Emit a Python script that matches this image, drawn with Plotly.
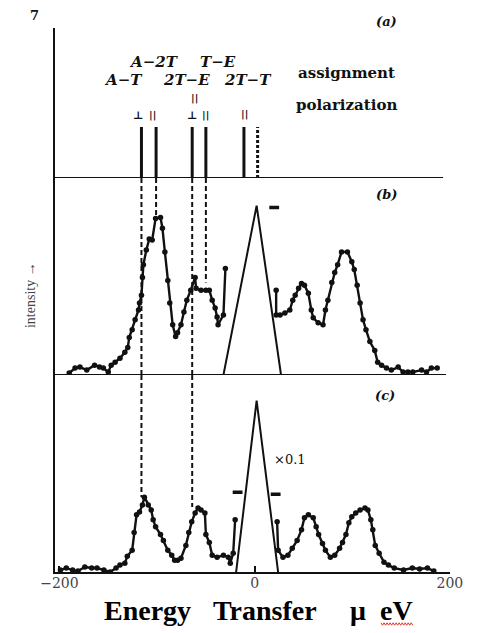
import plotly.graph_objects as go

W, H = 478, 633

# ---- (a) calculated transitions: energy (μeV), stick height, drawn dashed?
stick_E = [-116, -101, -64, -50, -11, 3]
stick_h = [51, 51, 51, 51, 51, 51]
stick_dashed = [False, False, False, False, False, True]

# guide lines dropped from the sticks: end value in (b) and in (c) (None = stops in (b))
guide_E = [-116, -101, -64, -50]
guide_end_b = [0, 80, 0, 47]
guide_end_c = [38, None, 33, None]

# ---- (b) measured spectrum
b_left_E = [-190, -184, -179, -172, -164, -159, -155, -150, -147, -143, -138, -133, -130, -128.5,
            -125.5, -122.5, -119, -118, -116, -115, -114, -111, -108, -105, -101.5, -96.5, -94.5,
            -92, -89, -87, -84, -81, -79, -75.5, -72.5, -69.5, -65.5, -61, -60, -55, -50, -46.5,
            -43.5, -40.5, -38.5, -37.5, -32, -30]
b_left_v = [1, 3.5, 4, 2.5, 5, 4, 3.5, 1.5, 5, 6.5, 8.5, 11.5, 14, 19,
            23, 28, 33, 36.5, 40.5, 49.5, 56, 63.5, 69, 68.5, 79.5, 80, 74.5,
            62.5, 48, 36.5, 25.5, 19.5, 21.5, 25.5, 32, 38, 43, 49.5, 44, 43, 43, 43,
            38, 34, 29.5, 25.5, 30.5, 54]
b_right_E = [22, 22, 26, 31, 36, 39, 41.5, 45, 48, 51, 55, 58, 60, 65, 70, 72.5, 75, 79, 82, 85,
             89, 95, 99.5, 102, 105, 108, 111, 114, 118, 123, 126, 130, 135, 140, 147, 152, 157,
             162, 171, 176, 181, 187]
b_right_v = [43, 30.5, 30.5, 31.5, 33, 38, 40.5, 44, 46.5, 45.5, 41.5, 33, 29, 26.5, 25.5, 33, 38,
             47, 52, 56, 62.5, 62.5, 57.5, 53.5, 45.5, 36.5, 28, 23, 17, 12.5, 6.5, 5, 3.5, 2.5,
             4, 1.5, 1.5, 1.5, 2.5, 1.5, 3.5, 3.5]
b_elastic_E = [-32, 2, 27]
b_elastic_v = [0, 86, 0]
b_single_E = [20]
b_single_v = [85]

# ---- (c) measured spectrum (elastic line scaled ×0.1)
c_left_E = [-199, -193, -186.5, -181, -174, -167, -161.5, -154.5, -148, -142, -138, -133, -130.5,
            -125.5, -123.5, -121, -118, -115, -113, -109, -106, -104, -101.5, -96.5, -93.5, -89,
            -85, -82, -79, -75.5, -70.5, -67.5, -64.5, -61, -58, -55, -51, -50, -46.5, -43.5,
            -38.5, -32, -27, -25, -22, -20]
c_left_v = [1, 2, 1, 0.5, 2.5, 2, 2, 1, 0, 2, 3.5, 4.5, 8,
            11, 20, 29, 30.5, 34, 38, 34, 31.5, 26.5, 23, 19, 16, 11,
            8.5, 6, 6, 7, 13.5, 20, 25.5, 30, 32.5, 31.5, 30, 19, 15, 8.5,
            7.5, 8.5, 7.5, 4.5, 9.5, 26.5]
c_right_E = [23, 24, 29, 34, 38.5, 43.5, 48, 51, 55, 60, 63, 65.5, 69.5, 72.5, 77.5, 82, 87, 90,
             93.5, 96.5, 99.5, 103.5, 108, 113, 116, 119, 121, 123.5, 127.5, 132.5, 137, 143,
             152.5, 161.5, 169, 177, 183.5]
c_right_v = [25.5, 11, 7.5, 8.5, 12, 16, 21.5, 27.5, 29, 27.5, 23, 19, 14.5, 11, 7.5, 8.5, 12, 15,
             19, 25, 28, 30, 31.5, 32.5, 31.5, 26.5, 21.5, 13.5, 9.5, 5, 3.5, 2,
             1, 2, 1.5, 2, 0.5]
c_elastic_E = [-19, 2, 24]
c_elastic_v = [0, 87, 0]
c_single_E = [-17.5, 21.5]
c_single_v = [40.5, 39.5]

x_ticks = [-200, 0, 200]
x_ticktext = ["\u2212200", "0", "200"]


def px(x):
    return x / W


def py(y):
    return 1 - y / H


INK = "#111111"
pt_marker = dict(symbol="circle", size=5.5, color=INK, line=dict(width=0))
single_marker = dict(symbol="line-ew", size=7, line=dict(width=3.5, color=INK), color=INK)

fig = go.Figure()

# sticks of panel (a)
for e, h, d in zip(stick_E, stick_h, stick_dashed):
    fig.add_trace(go.Scatter(x=[e, e], y=[0, h], mode="lines", xaxis="x", yaxis="y",
                             line=dict(color=INK, width=3, dash="3px,2px" if d else "solid"),
                             showlegend=False, hoverinfo="skip"))

# dashed guides through (b) and (c)
for e, eb, ec in zip(guide_E, guide_end_b, guide_end_c):
    fig.add_trace(go.Scatter(x=[e, e], y=[100, eb], mode="lines", xaxis="x", yaxis="y2",
                             line=dict(color=INK, width=2, dash="5px,3px"),
                             showlegend=False, hoverinfo="skip"))
    if ec is not None:
        fig.add_trace(go.Scatter(x=[e, e], y=[100, ec], mode="lines", xaxis="x", yaxis="y3",
                                 line=dict(color=INK, width=2, dash="5px,3px"),
                                 showlegend=False, hoverinfo="skip"))

# spectra
for ax, xs, ys in [("y2", b_left_E, b_left_v), ("y2", b_right_E, b_right_v),
                   ("y3", c_left_E, c_left_v), ("y3", c_right_E, c_right_v)]:
    fig.add_trace(go.Scatter(x=xs, y=ys, mode="lines+markers", xaxis="x", yaxis=ax,
                             line=dict(color=INK, width=2.4), marker=pt_marker,
                             showlegend=False, hoverinfo="skip"))
for ax, xs, ys in [("y2", b_elastic_E, b_elastic_v), ("y3", c_elastic_E, c_elastic_v)]:
    fig.add_trace(go.Scatter(x=xs, y=ys, mode="lines", xaxis="x", yaxis=ax,
                             line=dict(color=INK, width=2),
                             showlegend=False, hoverinfo="skip"))
for ax, xs, ys in [("y2", b_single_E, b_single_v), ("y3", c_single_E, c_single_v)]:
    fig.add_trace(go.Scatter(x=xs, y=ys, mode="markers", xaxis="x", yaxis=ax,
                             marker=single_marker, showlegend=False, hoverinfo="skip"))

yax = dict(showline=True, linecolor=INK, linewidth=2, showgrid=False, zeroline=False,
           showticklabels=False, ticks="", anchor="x", fixedrange=True)

shapes = [
    dict(type="line", xref="x", yref="y", x0=-205, x1=193, y0=0, y1=0,
         line=dict(color=INK, width=2)),
    dict(type="line", xref="x", yref="y2", x0=-205, x1=196, y0=0, y1=0,
         line=dict(color=INK, width=2)),
]

# red wavy underline beneath "eV"
wx0, wx1, wy = 389, 423, 624
pts = []
k = 0
xx = wx0
while xx <= wx1:
    yy = wy + (1.2 if k % 2 else -1.2)
    pts.append(f"{px(xx):.5f},{py(yy):.5f}")
    xx += 1.6
    k += 1
shapes.append(dict(type="path", xref="paper", yref="paper", path="M" + " L".join(pts),
                   line=dict(color="#e0342c", width=1)))

SERIF = "DejaVu Serif"
ann = []


def note(text, x, y, size, family=SERIF, color=INK, **kw):
    ann.append(dict(text=text, x=px(x), y=py(y), xref="paper", yref="paper",
                    showarrow=False, font=dict(family=family, size=size, color=color),
                    xanchor="center", yanchor="middle", **kw))


note("<b>7</b>", 22, 15, 13)
note("<b><i>(a)</i></b>", 395, 22, 13)
note("<b><i>(b)</i></b>", 395, 195, 13)
note("<b><i>(c)</i></b>", 393, 395, 13)
note("<b><i>A\u22122T</i></b>", 148, 62, 15)
note("<b><i>T\u2212E</i></b>", 216, 62, 15)
note("<b><i>A\u2212T</i></b>", 116, 80, 15)
note("<b><i>2T\u2212E</i></b>", 183, 80, 15)
note("<b><i>2T\u2212T</i></b>", 248, 80, 15)
note("<b>assignment</b>", 352, 73, 15)
note("<b>polarization</b>", 352, 105, 15)
note("<b>\u22a5</b>", 132, 115, 11)
note("<b>||</b>", 147, 115, 10)
note("<b>\u22a5</b>", 189, 115, 11)
note("<b>||</b>", 191, 98, 10)
note("<b>||</b>", 203, 115, 10)
note("<b>||</b>", 244, 114, 10)
note("\u00d70.1", 293, 459, 13)
note("intensity \u2192", 17, 295, 14, family="Liberation Serif", color="#444444", textangle=-90)
# axis title, set word by word
for word, cx in [("Energy", 142), ("Transfer", 266), ("\u03bc", 365), ("eV", 405)]:
    note(f"<b>{word}</b>", cx, 610, 28, family="Liberation Serif", color="#000000")

fig.update_layout(
    width=W, height=H,
    margin=dict(l=0, r=0, t=0, b=0),
    paper_bgcolor="white", plot_bgcolor="white",
    xaxis=dict(domain=[px(43), px(462)], range=[-205, 200], anchor="y3",
               showline=True, linecolor=INK, linewidth=2, showgrid=False, zeroline=False,
               ticks="inside", ticklen=6, tickwidth=1.5, tickcolor=INK,
               tickvals=x_ticks, ticktext=x_ticktext, ticklabelstandoff=-3,
               tickfont=dict(family=SERIF, size=14, color="#444444"), fixedrange=True),
    yaxis=dict(domain=[py(178), py(28)], range=[0, 150], **yax),
    yaxis2=dict(domain=[py(375), py(178)], range=[0, 100], **yax),
    yaxis3=dict(domain=[py(572), py(375)], range=[0, 100], **yax),
    shapes=shapes,
    annotations=ann,
)

fig.write_html("out.html")
